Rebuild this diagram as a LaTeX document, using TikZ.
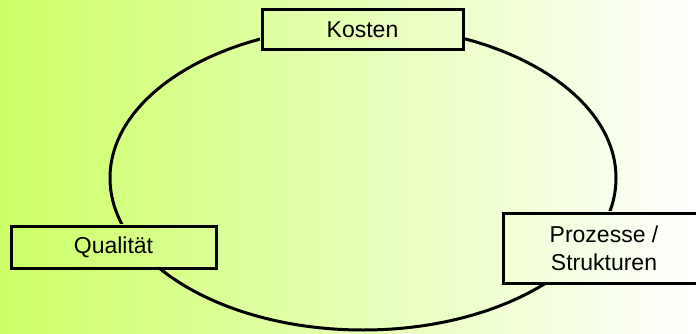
\documentclass[tikz,border=0pt]{standalone}
\usepackage{fontspec}
\setmainfont{Liberation Sans}
\pgfdeclarelayer{bg}
\pgfdeclarelayer{mid}
\pgfsetlayers{bg,mid,main}
\definecolor{lg}{RGB}{204,255,102}
\definecolor{mg}{RGB}{235,255,195}
\begin{document}
\begin{tikzpicture}[x=1pt,y=-1pt,
  box/.style={draw=black,line width=3pt,rectangle,inner sep=0pt,align=center,
    font=\fontsize{23}{28}\selectfont},
  bgshade/.style={left color=lg,middle color=mg,right color=white}]
\useasboundingbox (0,0) rectangle (696,334);
\begin{pgfonlayer}{bg}
  \shade[bgshade] (0,0) rectangle (696,334);
  \draw[line width=3pt] (363,178) ellipse [x radius=253, y radius=152];
\end{pgfonlayer}
\node[box,minimum width=201pt,minimum height=40pt] (kosten) at (362.5,30) {Kosten};
\node[box,minimum width=205pt,minimum height=42pt] (qual) at (113.5,247) {Qualität};
\node[box,minimum width=202pt,minimum height=70pt] (proz) at (604,248) {Prozesse /\\Strukturen};
\begin{pgfonlayer}{mid}
  \foreach \n in {kosten,qual,proz}{
    \begin{scope}
      \clip (\n.south west) rectangle (\n.north east);
      \shade[bgshade] (0,0) rectangle (696,334);
    \end{scope}
  }
\end{pgfonlayer}
\end{tikzpicture}
\end{document}
